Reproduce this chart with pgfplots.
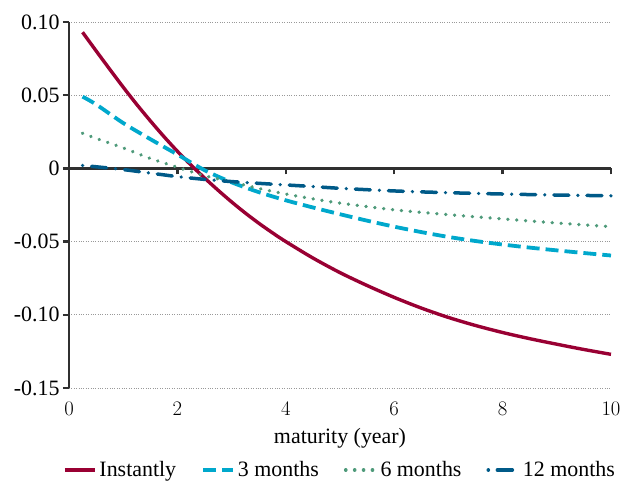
\documentclass[border=0pt]{standalone}
\usepackage{fontspec}
\setmainfont{Liberation Serif}
\usepackage{pgfplots}
\pgfplotsset{compat=1.18}
\definecolor{cred}{HTML}{990033}
\definecolor{cblue}{HTML}{00A8CC}
\definecolor{cgreen}{HTML}{4E9A7A}
\definecolor{cdark}{HTML}{005A88}
\definecolor{axgray}{HTML}{303030}
\begin{document}
\begin{tikzpicture}
\useasboundingbox (-69bp,-93bp) rectangle (558bp,388bp);
\pgfplotsset{every axis/.append style={font=\fontsize{22}{25}\selectfont}}
\begin{axis}[
  scale only axis, width=542bp, height=366bp,
  xmin=0, xmax=10, ymin=-0.15, ymax=0.10,
  axis x line=middle, axis y line=left,
  axis line style={-, line width=2.6bp, color=axgray},
  xtick={2,4,6,8,10}, xticklabels={},
  ytick={-0.15,-0.10,-0.05,0,0.05,0.10},
  yticklabels={-0.15,-0.10,-0.05,0,0.05,0.10},
  tick align=outside, major tick length=6bp,
  tick style={line width=2.4bp, color=axgray},
  ymajorgrids, grid style={dotted, gray!80, line width=0.9bp},
  clip=false,
  legend style={at={(0.5,-0.224)}, anchor=center, draw=none, fill=none,
    legend columns=4, font=\fontsize{22}{25}\selectfont,
    /tikz/every even column/.append style={column sep=23bp},
    /tikz/every odd column/.append style={column sep=1bp}},
  legend image code/.code={\draw[#1] (0bp,0bp) -- (30bp,0bp);},
]
\addplot[cred, line width=3.4bp, smooth, tension=0.5] coordinates {
(0.25,0.093) (0.5,0.0803) (0.75,0.0678) (1,0.0555) (1.25,0.0437) (1.5,0.0325) (1.75,0.0218) (2,0.0117) (2.25,0.0023) (2.5,-0.0065) (2.75,-0.0149) (3,-0.0229) (3.25,-0.0304) (3.5,-0.0374) (3.75,-0.0439) (4,-0.0500) (4.5,-0.0612) (5,-0.0712) (5.5,-0.0800) (6,-0.0881) (6.5,-0.0954) (7,-0.1018) (7.5,-0.1073) (8,-0.1121) (8.5,-0.1163) (9,-0.1201) (9.5,-0.1237) (10,-0.1270)};
\addlegendentry{Instantly}
\addplot[cblue, line width=3.8bp, smooth, tension=0.5, dash pattern=on 13bp off 6bp] coordinates {
(0.25,0.049) (0.5,0.0437) (1,0.031) (1.5,0.020) (2,0.0095) (2.5,-0.0012) (3,-0.0095) (3.5,-0.0162) (4,-0.0218) (4.5,-0.0267) (5,-0.0313) (5.5,-0.0357) (6,-0.0398) (6.5,-0.0435) (7,-0.0468) (7.5,-0.0496) (8,-0.0520) (8.5,-0.0541) (9,-0.0560) (9.5,-0.0578) (10,-0.0595)};
\addlegendentry{3 months}
\addplot[cgreen, line width=3.6bp, smooth, tension=0.5, line cap=round, dash pattern=on 0.1bp off 8.8bp] coordinates {
(0.25,0.024) (0.5,0.0205) (1,0.014) (1.5,0.0068) (2,0.0008) (2.5,-0.0050) (3,-0.0092) (3.5,-0.0137) (4,-0.0175) (4.5,-0.0208) (5,-0.0237) (6,-0.0283) (7,-0.0316) (8,-0.0345) (9,-0.0373) (10,-0.0398)};
\addlegendentry{6 months}
\addplot[cdark, line width=3.5bp, smooth, tension=0.5, line cap=round, dash pattern=on 0.1bp off 9bp on 15bp off 9bp] coordinates {
(0.25,0.002) (0.5,0.0011) (1,-0.0008) (1.5,-0.0032) (2,-0.0056) (2.5,-0.0075) (3,-0.0090) (3.5,-0.0102) (4,-0.0113) (4.5,-0.0124) (5,-0.0136) (6,-0.0154) (7,-0.0166) (8,-0.0175) (9,-0.0182) (10,-0.0187)};
\addlegendentry{12 months}
\end{axis}
\begin{axis}[
  scale only axis, width=542bp, height=366bp,
  xmin=0, xmax=10, ymin=-0.15, ymax=0.10,
  axis x line=bottom, axis y line=none,
  x axis line style={draw=none},
  xtick={0,2,4,6,8,10}, major x tick style={draw=none},
  xticklabel style={yshift=-9bp},
  ytick=\empty,
  xlabel={maturity (year)},
  xlabel style={at={(axis description cs:0.5,0)}, anchor=center, yshift=-50bp},
]
\end{axis}
\end{tikzpicture}
\end{document}
